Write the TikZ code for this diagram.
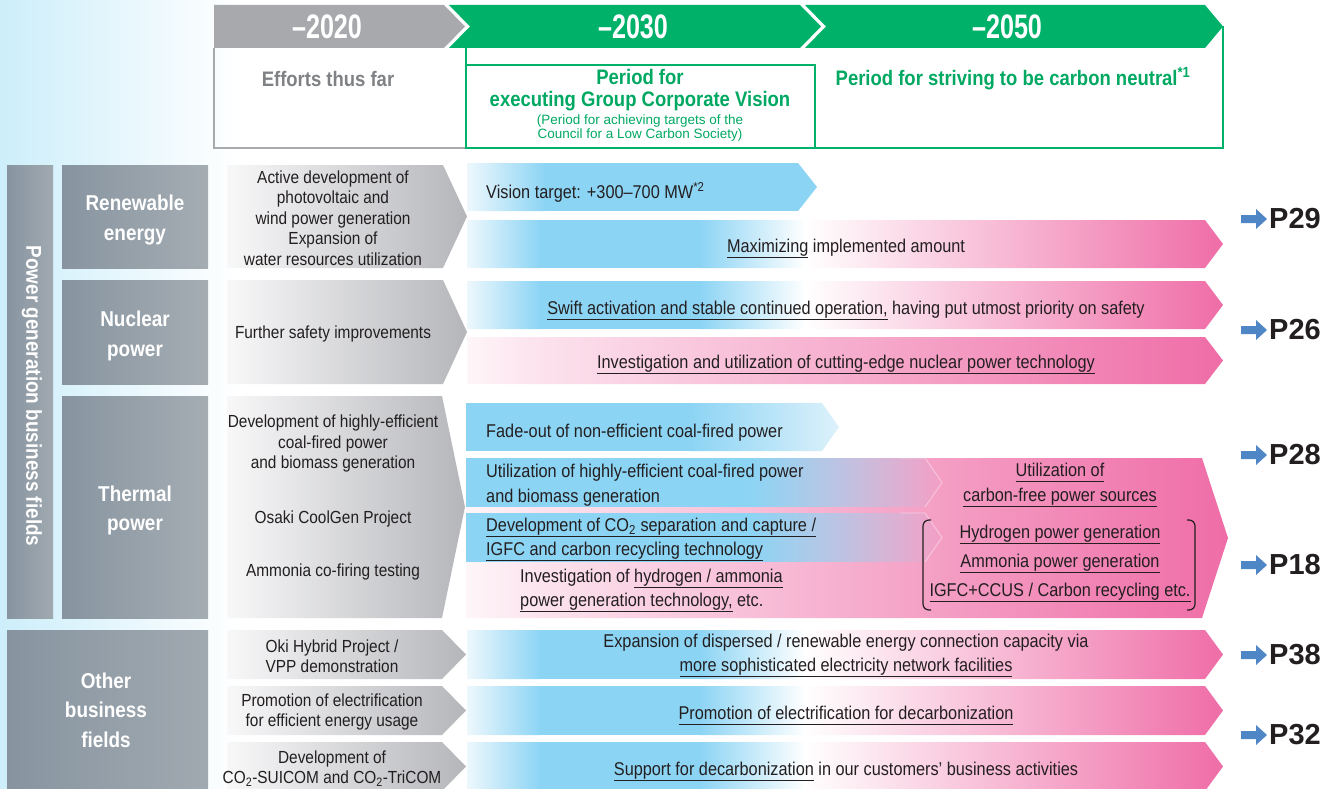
\documentclass[tikz,border=0pt]{standalone}
\usepackage{fontspec}
\setmainfont[FakeStretch=0.88]{Liberation Sans}
\newfontfamily\plainsans{Liberation Sans}
\newfontfamily\yearfont[FakeStretch=0.74]{Liberation Sans}
\usetikzlibrary{fadings}

% palette
\definecolor{txt}{HTML}{231F20}
\definecolor{hdrgray}{HTML}{A7A9AC}
\definecolor{effgray}{HTML}{7F8184}
\definecolor{hdrgreen}{HTML}{00B16A}
\definecolor{grntxt}{HTML}{00A862}
\definecolor{catL}{HTML}{8794A0}
\definecolor{catR}{HTML}{A5ADB3}
\definecolor{chevL}{HTML}{F8F8F9}
\definecolor{chevR}{HTML}{B5B6BA}
\definecolor{sky}{HTML}{8CD4F4}
\definecolor{skystart}{HTML}{EEF8FD}
\definecolor{skypale}{HTML}{DDF1FB}
\definecolor{pinkpale}{HTML}{FCE4EE}
\definecolor{pinkstart}{HTML}{FEF6F9}
\definecolor{pinkdeep}{HTML}{EF6DA7}
\definecolor{bgblue}{HTML}{CDEEFA}
\definecolor{pref}{HTML}{4F86C6}

\tikzfading[name=fadeout right, left color=transparent!0, right color=transparent!100]

% underlined phrase with a flat rule below the baseline
\newsavebox\ulbox
\newcommand\ul[1]{\sbox\ulbox{#1}\makebox[0pt][l]{\textcolor{txt}{\rule[-5.5pt]{\wd\ulbox}{1.2pt}}}\usebox\ulbox}

% chevron: x-left, y-top, x-body-end, x-tip, y-bottom
\newcommand\chevclip[5]{\clip (#1,#2) -- (#3,#2) -- (#4,{(#2+#5)/2}) -- (#3,#5) -- (#1,#5) -- cycle;}
\newcommand\chevshade[7]{\shade[left color=#6,right color=#7] (#1,#2) -- (#3,#2) -- (#4,{(#2+#5)/2}) -- (#3,#5) -- (#1,#5) -- cycle;}
% horizontal gradient strip: x1, x2, y1, y2, colour1, colour2
\newcommand\hseg[6]{\shade[left color=#5,right color=#6] ({#1-0.4},#3) rectangle ({#2+0.4},#4);}

% long bar running blue -> white -> pink
\newcommand\bwpbar[2]{\begin{scope}\chevclip{467}{#1}{1205}{1223}{#2}
  \hseg{467}{540}{#1}{#2}{skystart}{sky}
  \fill[sky] (539,#1) rectangle (701,#2);
  \hseg{700}{805}{#1}{#2}{sky}{white}
  \hseg{805}{880}{#1}{#2}{white}{pinkpale}
  \hseg{880}{1223}{#1}{#2}{pinkpale}{pinkdeep}
\end{scope}}
% long bar running white -> pink
\newcommand\wpbar[2]{\begin{scope}\chevclip{467}{#1}{1205}{1223}{#2}
  \hseg{467}{530}{#1}{#2}{pinkstart}{pinkpale}
  \hseg{530}{1223}{#1}{#2}{pinkpale}{pinkdeep}
\end{scope}}
% page reference marker: name, y, label
\newcommand\pagemark[3]{\fill[pref] (1241,{#2-4}) -- (1256,{#2-4}) -- (1256,{#2-10}) -- (1267,#2) -- (1256,{#2+10}) -- (1256,{#2+4}) -- (1241,{#2+4}) -- cycle;
  \node[ptxt, anchor=west] (#1) at (1269,#2) {#3};}

\begin{document}
\begin{tikzpicture}[x=1pt,y=-1pt,
  yearlbl/.style={font=\yearfont\bfseries\fontsize{34}{34}\selectfont, text=white, inner sep=0},
  effort/.style={font=\bfseries\fontsize{21}{24}\selectfont, text=effgray, inner sep=0, yshift=-1pt},
  period/.style={font=\bfseries\fontsize{21}{22}\selectfont, text=grntxt, align=center, inner sep=0, yshift=-1.5pt},
  periodsub/.style={font=\plainsans\fontsize{13.5}{14.5}\selectfont, text=grntxt, align=center, inner sep=0, yshift=-1pt},
  catbase/.style={font=\bfseries\fontsize{21.5}{29.5}\selectfont, text=white, align=center, inner sep=0},
  catlbl/.style={catbase, yshift=-3pt},
  pasttxt/.style={font=\fontsize{17.5}{20.4}\selectfont, text=txt, align=center, inner sep=0, yshift=-1.5pt},
  bartxt/.style={font=\fontsize{18.5}{24.5}\selectfont, text=txt, align=center, inner sep=0, yshift=-2.5pt},
  barleft/.style={bartxt, align=left, anchor=west},
  ptxt/.style={font=\plainsans\bfseries\fontsize{29}{29}\selectfont, text=txt, inner sep=0},
  frame/.style={line width=1.5pt}]
\useasboundingbox (0,0) rectangle (1332,789);
\clip (0,0) rectangle (1332,789);

% pale blue wash behind the left column
\shade[left color=bgblue, right color=white] (0,0) rectangle (240,789);

% ---------- timeline header ----------
\fill[hdrgray] (214,5) -- (444,5) -- (465,26.5) -- (444,48) -- (214,48) -- cycle;
\fill[hdrgreen] (449,5) -- (800,5) -- (821,26.5) -- (800,48) -- (449,48) -- (470,26.5) -- cycle;
\fill[hdrgreen] (805,5) -- (1205,5) -- (1223,26.5) -- (1205,48) -- (805,48) -- (826,26.5) -- cycle;
\draw[frame, hdrgray] (214,48) -- (214,148) -- (466,148);
\draw[frame, hdrgreen] (466,48) -- (466,148) -- (1223,148) -- (1223,26.5);
\draw[frame, hdrgreen] (466,65) rectangle (815,148);

\node[yearlbl] (y2020) at (327,27) {–2020};
\node[yearlbl] (y2030) at (633,27) {–2030};
\node[yearlbl] (y2050) at (1007,27) {–2050};
\node[effort] (past) at (328,78) {Efforts thus far};
\node[period] (vision) at (640,89) {Period for\\executing Group Corporate Vision};
\node[periodsub] (council) at (640,127) {(Period for achieving targets of the\\Council for a Low Carbon Society)};
\node[period] (neutral) at (1013,77) {Period for striving to be carbon neutral\textsuperscript{*1}};

% ---------- category blocks ----------
\shade[left color=catL, right color=catR!85!catL] (7,165) rectangle (53,618);
\shade[left color=catL, right color=catR] (62,165) rectangle (208,268);
\shade[left color=catL, right color=catR] (62,280) rectangle (208,384);
\shade[left color=catL, right color=catR] (62,396) rectangle (208,618);
\shade[left color=catL, right color=catR!85!catL] (7,630) rectangle (208,795);

\node[catbase, rotate=-90] (powergen) at (32,396) {Power generation business fields};
\node[catlbl] (renew) at (135,217) {Renewable\\energy};
\node[catlbl] (nuclear) at (135,333) {Nuclear\\power};
\node[catlbl] (thermal) at (135,507.5) {Thermal\\power};
\node[catbase] (other) at (106,710) {Other\\business\\fields};

% ---------- efforts so far (grey chevrons) ----------
\chevshade{227}{165}{443}{467}{268}{chevL}{chevR}
\chevshade{227}{280}{443}{467}{384}{chevL}{chevR}
\chevshade{227}{396}{442}{465}{618}{chevL}{chevR}
\chevshade{227}{630}{442}{466}{679}{chevL}{chevR}
\chevshade{227}{686}{442}{466}{735}{chevL}{chevR}
\chevshade{227}{742}{442}{466}{791}{chevL}{chevR}

\node[pasttxt] (pastrenew) at (333,216.5) {Active development of\\photovoltaic and\\wind power generation\\Expansion of\\water resources utilization};
\node[pasttxt] (pastnuc) at (333,332) {Further safety improvements};
\node[pasttxt] (pastcoal) at (333,442) {Development of highly-efficient\\coal-fired power\\and biomass generation};
\node[pasttxt] (pastosaki) at (333,517) {Osaki CoolGen Project};
\node[pasttxt] (pastnh3) at (333,570) {Ammonia co-firing testing};
\node[pasttxt] (pastoki) at (332,655) {Oki Hybrid Project /\\VPP demonstration};
\node[pasttxt] (pastelec) at (332,710.5) {Promotion of electrification\\for efficient energy usage};
\node[pasttxt] (pastco2) at (332,767) {Development of\\CO\textsubscript{2}-SUICOM and CO\textsubscript{2}-TriCOM};

% ---------- renewable energy bars ----------
\begin{scope}\chevclip{467}{163}{798}{817}{211}
  \hseg{467}{545}{163}{211}{skystart}{sky}
  \fill[sky] (544,163) rectangle (818,211);
\end{scope}
\bwpbar{220}{268}
\node[barleft] (visiontarget) at (486,190) {Vision target: +300–700 MW\textsuperscript{*2}};
\node[bartxt] (maximize) at (846,246) {\ul{Maximizing} implemented amount};

% ---------- nuclear power bars ----------
\bwpbar{281}{329}
\wpbar{337}{384}
\node[bartxt] (swift) at (846,308) {\ul{Swift activation and stable continued operation,} having put utmost priority on safety};
\node[bartxt] (cutting) at (846,362) {\ul{Investigation and utilization of cutting-edge nuclear power technology}};

% ---------- thermal power bars ----------
\begin{scope}\chevclip{466}{403}{822}{839}{451}
  \fill[sky] (466,403) rectangle (691,451);
  \hseg{690}{839}{403}{451}{sky}{skypale}
\end{scope}
\begin{scope}\chevclip{466}{458}{1202}{1228}{618}
  \hseg{466}{535}{458}{618}{pinkstart}{pinkpale}
  \hseg{535}{1228}{458}{618}{pinkpale}{pinkdeep}
\end{scope}
\begin{scope}\chevclip{466}{458}{925}{942}{507}
  \fill[sky] (466,458) rectangle (751,507);
  \fill[sky, path fading=fadeout right] (750,458) rectangle (942,507);
\end{scope}
\begin{scope}\chevclip{466}{513}{925}{942}{562}
  \fill[sky] (466,513) rectangle (751,562);
  \fill[sky, path fading=fadeout right] (750,513) rectangle (942,562);
\end{scope}
\draw[white, opacity=0.45, line width=0.8pt] (900,458) -- (925,458) -- (942,482.5) -- (925,507);
\draw[white, opacity=0.45, line width=0.8pt] (900,513) -- (925,513) -- (942,537.5) -- (925,562);

\node[barleft] (fadeout) at (486,430) {Fade-out of non-efficient coal-fired power};
\node[barleft] (hecoal) at (486,482.5) {Utilization of highly-efficient coal-fired power\\and biomass generation};
\node[barleft] (ccs) at (486,537) {\ul{Development of CO\textsubscript{2} separation and capture /}\\\ul{IGFC and carbon recycling technology}};
\node[barleft] (h2inv) at (520,588) {Investigation of \ul{hydrogen / ammonia}\\\ul{power generation technology,} etc.};
\node[bartxt] (carbonfree) at (1060,482.5) {\ul{Utilization of}\\\ul{carbon-free power sources}};
\node[bartxt] (h2gen) at (1060,532) {\ul{Hydrogen power generation}};
\node[bartxt] (nh3gen) at (1060,561) {\ul{Ammonia power generation}};
\node[bartxt] (igfc) at (1060,590) {\ul{IGFC+CCUS / Carbon recycling etc.}};
\draw[txt, line width=1.2pt, rounded corners=6pt] (931,520) -- (923,520) -- (923,610) -- (931,610);
\draw[txt, line width=1.2pt, rounded corners=6pt] (1187,520) -- (1195,520) -- (1195,610) -- (1187,610);

% ---------- other business fields ----------
\bwpbar{630}{679}
\bwpbar{686}{735}
\bwpbar{742}{791}
\node[bartxt] (network) at (846,653) {Expansion of dispersed / renewable energy connection capacity via\\\ul{more sophisticated electricity network facilities}};
\node[bartxt] (electrify) at (846,713) {\ul{Promotion of electrification for decarbonization}};
\node[bartxt] (customers) at (846,769) {\ul{Support for decarbonization} in our customers’ business activities};

% ---------- page references ----------
\pagemark{p29}{219}{P29}
\pagemark{p26}{330}{P26}
\pagemark{p28}{455}{P28}
\pagemark{p18}{565}{P18}
\pagemark{p38}{655}{P38}
\pagemark{p32}{735}{P32}
\end{tikzpicture}
\end{document}
